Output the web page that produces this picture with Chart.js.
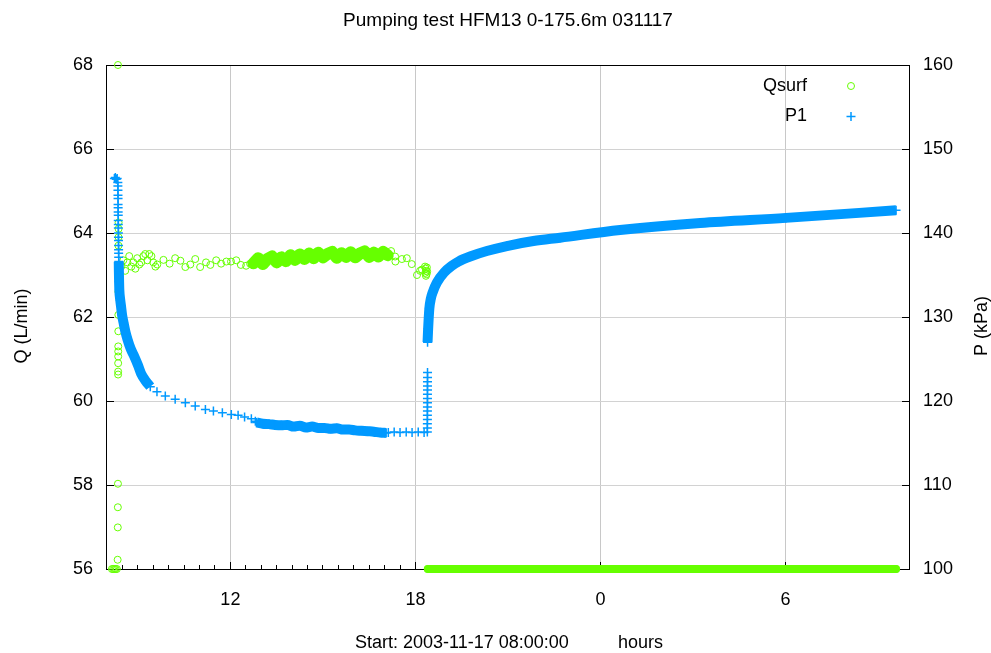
<!DOCTYPE html>
<html>
<head>
<meta charset="utf-8">
<title>Pumping test HFM13 0-175.6m 031117</title>
<script src="https://cdn.jsdelivr.net/npm/chart.js@4.4.1/dist/chart.umd.min.js"></script>
<style>
  html, body { margin: 0; padding: 0; background: #ffffff; }
  #wrap { width: 991px; height: 653px; position: relative; }
</style>
</head>
<body>
<div id="wrap"><canvas id="chart"></canvas></div>
<script>
// Time is in hours since 2003-11-17 00:00 (test start 08:00).

// ---- Qsurf, surface flow (L/min) ----
// start-up readings around the pump start
const qStartT = [8.16, 8.20, 8.24, 8.28, 8.32, 8.345, 8.350, 8.352, 8.355, 8.356, 8.360, 8.361, 8.362, 8.363, 8.364, 8.365, 8.366, 8.368, 8.370, 8.372, 8.374, 8.375, 8.376];
const qStartV = [56.0, 56.0, 56.0, 56.0, 56.0, 56.22, 56.99, 57.47, 58.03, 68.0, 60.63, 60.70, 60.90, 61.06, 61.18, 61.30, 61.66, 62.05, 62.60, 63.70, 63.90, 64.10, 64.25];
// early pumping period
const qEarlyT = [8.46, 8.53, 8.59, 8.66, 8.72, 8.79, 8.85, 8.92, 8.98, 9.05, 9.11, 9.18, 9.24, 9.31, 9.37, 9.44, 9.50, 9.57, 9.63,
                 9.83, 10.03, 10.21, 10.38, 10.54, 10.70, 10.86, 11.02, 11.21, 11.35, 11.54, 11.70, 11.87, 12.02, 12.19, 12.34, 12.51, 12.64];
const qEarlyV = [63.20, 63.35, 63.10, 63.30, 63.45, 63.20, 63.30, 63.15, 63.40, 63.25, 63.30, 63.45, 63.50, 63.35, 63.50, 63.45, 63.30, 63.20, 63.25,
                 63.36, 63.27, 63.40, 63.34, 63.19, 63.25, 63.38, 63.19, 63.30, 63.24, 63.35, 63.27, 63.32, 63.32, 63.35, 63.24, 63.22, 63.27];
// densely logged pumping period
const qDenseT = [12.75, 12.90, 13.05, 13.20, 13.35, 13.50, 13.65, 13.80, 13.95, 14.10, 14.25, 14.40, 14.55, 14.70, 14.85,
                 15.00, 15.15, 15.30, 15.45, 15.60, 15.75, 15.90, 16.05, 16.20, 16.35, 16.50, 16.65, 16.80, 16.95, 17.10];
const qDenseV = [63.28, 63.40, 63.26, 63.38, 63.44, 63.30, 63.42, 63.33, 63.47, 63.36, 63.49, 63.38, 63.51, 63.40, 63.53,
                 63.42, 63.50, 63.55, 63.41, 63.52, 63.43, 63.54, 63.42, 63.51, 63.56, 63.43, 63.53, 63.44, 63.55, 63.47];
// last hour of pumping
const qLateT = [17.21, 17.34, 17.35, 17.56, 17.72, 17.88, 18.05, 18.15, 18.21, 18.31, 18.32, 18.33, 18.34, 18.35, 18.36, 18.37, 18.38];
const qLateV = [63.57, 63.44, 63.32, 63.38, 63.40, 63.26, 63.00, 63.10, 63.13, 63.20, 63.05, 63.15, 62.98, 63.10, 63.02, 63.18, 63.08];
// pump stopped: recovery period
const qOffT = [18.40, 19.50, 21.00, 22.50, 24.00, 25.50, 27.00, 28.50, 30.00, 31.50, 33.00, 33.58];
const qOffV = [56.0, 56.0, 56.0, 56.0, 56.0, 56.0, 56.0, 56.0, 56.0, 56.0, 56.0, 56.0];

// ---- P1, section pressure (kPa) ----
const pStartT = [8.24, 8.27, 8.30, 8.33, 8.352, 8.353, 8.355, 8.356, 8.358, 8.359, 8.361, 8.362, 8.364, 8.365, 8.367, 8.368,
                 8.370, 8.371, 8.373, 8.374, 8.376, 8.377, 8.379];
const pStartV = [146.5, 146.6, 146.4, 146.5, 146.0, 145.6, 145.1, 144.5, 144.1, 143.4, 143.0, 142.5, 142.1, 141.5, 141.0, 140.6,
                 140.0, 139.5, 139.1, 138.5, 138.0, 137.6, 137.1];
const pDrawT = [8.381, 8.386, 8.392, 8.40, 8.43, 8.454, 8.49, 8.538, 8.60, 8.668, 8.77, 8.885, 9.00, 9.102, 9.25, 9.403];
const pDrawV = [136.6, 135.3, 134.2, 133.2, 132.0, 131.3, 130.2, 129.3, 128.2, 127.3, 126.2, 125.3, 124.3, 123.3, 122.4, 121.7];
const pMidT = [9.62, 9.89, 10.21, 10.54, 10.86, 11.19, 11.45, 11.74, 12.03, 12.25, 12.46, 12.68, 12.81];
const pMidV = [121.1, 120.6, 120.2, 119.8, 119.4, 119.0, 118.8, 118.6, 118.4, 118.3, 118.1, 117.9, 117.6];
const pDenseT = [12.85, 13.05, 13.25, 13.45, 13.65, 13.85, 14.05, 14.25, 14.45, 14.65, 14.85,
                 15.05, 15.25, 15.45, 15.65, 15.85, 16.05, 16.25, 16.45, 16.65, 16.85, 17.05];
const pDenseV = [117.45, 117.30, 117.25, 117.15, 117.10, 117.15, 116.95, 117.05, 116.85, 116.95, 116.80,
                 116.80, 116.70, 116.75, 116.60, 116.60, 116.50, 116.45, 116.40, 116.35, 116.25, 116.20];
const pLateT = [17.12, 17.31, 17.50, 17.70, 17.89, 18.09, 18.28, 18.385,
                18.386, 18.386, 18.387, 18.387, 18.388, 18.388, 18.389, 18.389, 18.389, 18.390, 18.390, 18.390, 18.391, 18.391];
const pLateV = [116.25, 116.30, 116.25, 116.30, 116.25, 116.30, 116.25, 116.30,
                116.8, 117.3, 117.8, 118.3, 118.8, 119.3, 119.8, 120.3, 120.8, 121.3, 121.8, 122.3, 122.8, 123.4];
const pRecT = [18.392, 18.411, 18.45, 18.50, 18.564, 18.693, 18.930, 19.180, 19.394, 19.772, 20.313, 20.962, 21.824, 22.689, 24.633, 27.23, 30.01, 33.58];
const pRecV = [127.0, 128.6, 131.0, 132.2, 133.0, 134.1, 135.3, 136.1, 136.6, 137.2, 137.85, 138.45, 139.04, 139.44, 140.36, 141.2, 141.8, 142.7];

// ---- axes ----
const xTickHours = [12, 18, 24, 30];
const xTickLabels = ['12', '18', '0', '6'];
const qTicks = [56, 58, 60, 62, 64, 66, 68];
const pTicks = [100, 110, 120, 130, 140, 150, 160];

const GREEN = '#66ff00';
const BLUE = '#0099ff';
const FONT = '"Liberation Sans", Arial, Helvetica, sans-serif';

const pts = (t, v) => t.map((h, i) => ({ x: h, y: v[i] }));

function qSet(t, v, band) {
  return {
    label: 'Qsurf', data: pts(t, v), yAxisID: 'q', order: 2, clip: false,
    showLine: band > 0, borderColor: GREEN, borderWidth: band,
    borderCapStyle: 'round', borderJoinStyle: 'round', tension: 0,
    pointStyle: 'circle', pointRadius: 3.5, pointBorderWidth: 1,
    pointBorderColor: GREEN, pointBackgroundColor: 'rgba(0,0,0,0)'
  };
}
function pSet(t, v, band) {
  return {
    label: 'P1', data: pts(t, v), yAxisID: 'p', order: 1, clip: false,
    showLine: band > 0, borderColor: BLUE, borderWidth: band,
    borderCapStyle: 'butt', borderJoinStyle: 'round', cubicInterpolationMode: 'monotone',
    pointStyle: 'cross', pointRadius: 4.5, pointBorderWidth: 1.5,
    pointBorderColor: BLUE, pointBackgroundColor: BLUE
  };
}

// frame, inward tick marks, legend and captions in gnuplot style
const decor = {
  id: 'decor',
  beforeDatasetsDraw(chart) {
    const { ctx, chartArea: a, scales } = chart;
    const x = scales.x, q = scales.q, p = scales.p;
    ctx.save();
    ctx.strokeStyle = '#000';
    ctx.lineWidth = 1;
    ctx.beginPath();
    for (let h = 8.5; h < 34; h += 0.5) {
      const px = Math.round(x.getPixelForValue(h) - 0.5) + 0.5;
      const len = xTickHours.includes(h) ? 7 : 4;
      ctx.moveTo(px, a.bottom); ctx.lineTo(px, a.bottom - len);
    }
    qTicks.slice(1, -1).forEach(v => {
      const py = Math.round(q.getPixelForValue(v) - 0.5) + 0.5;
      ctx.moveTo(a.left, py); ctx.lineTo(a.left + 7, py);
    });
    pTicks.slice(1, -1).forEach(v => {
      const py = Math.round(p.getPixelForValue(v) - 0.5) + 0.5;
      ctx.moveTo(a.right, py); ctx.lineTo(a.right - 7, py);
    });
    ctx.stroke();
    ctx.strokeRect(a.left - 0.5, a.top + 0.5, a.right - a.left + 1, a.bottom - a.top);
    ctx.restore();
  },
  afterDraw(chart) {
    const { ctx, chartArea: a } = chart;
    const labelY = (a.top + a.bottom) / 2 + 9;
    ctx.save();
    ctx.fillStyle = '#000';
    ctx.textBaseline = 'middle';

    ctx.font = '19px ' + FONT;
    ctx.textAlign = 'center';
    ctx.fillText('Pumping test HFM13 0-175.6m 031117', (a.left + a.right) / 2, 21);

    ctx.font = '18px ' + FONT;
    ctx.save(); ctx.translate(22, labelY); ctx.rotate(-Math.PI / 2);
    ctx.fillText('Q (L/min)', 0, 0); ctx.restore();
    ctx.save(); ctx.translate(982, labelY); ctx.rotate(-Math.PI / 2);
    ctx.fillText('P (kPa)', 0, 0); ctx.restore();

    ctx.textAlign = 'left';
    ctx.fillText('Start: 2003-11-17 08:00:00', 355, 643);
    ctx.fillText('hours', 618, 643);

    // legend
    ctx.textAlign = 'right';
    const rows = [{ label: 'Qsurf', y: a.top + 21 }, { label: 'P1', y: a.top + 51.5 }];
    rows.forEach(r => ctx.fillText(r.label, a.right - 102, r.y));
    const sx = a.right - 58;
    ctx.strokeStyle = GREEN; ctx.lineWidth = 1;
    ctx.beginPath(); ctx.arc(sx, rows[0].y, 3.5, 0, Math.PI * 2); ctx.stroke();
    ctx.strokeStyle = BLUE; ctx.lineWidth = 1.5;
    ctx.beginPath();
    ctx.moveTo(sx - 4.5, rows[1].y); ctx.lineTo(sx + 4.5, rows[1].y);
    ctx.moveTo(sx, rows[1].y - 4.5); ctx.lineTo(sx, rows[1].y + 4.5);
    ctx.stroke();
    ctx.restore();
  }
};

const tickFont = { family: FONT, size: 18 };

new Chart(document.getElementById('chart'), {
  type: 'scatter',
  data: {
    datasets: [
      pSet(pStartT, pStartV, 0),
      pSet(pDrawT, pDrawV, 10),
      pSet(pMidT, pMidV, 0),
      pSet(pDenseT, pDenseV, 10),
      pSet(pLateT, pLateV, 0),
      pSet(pRecT, pRecV, 10),
      qSet(qStartT, qStartV, 0),
      qSet(qEarlyT, qEarlyV, 0),
      qSet(qDenseT, qDenseV, 12),
      qSet(qLateT, qLateV, 0),
      qSet(qOffT, qOffV, 8)
    ]
  },
  options: {
    responsive: true,
    maintainAspectRatio: false,
    animation: false,
    events: [],
    layout: { padding: { top: 65, left: 0, right: 0, bottom: 0 } },
    plugins: { legend: { display: false }, tooltip: { enabled: false }, title: { display: false } },
    scales: {
      x: {
        type: 'linear', position: 'bottom', min: 8, max: 34,
        afterBuildTicks: s => { s.ticks = xTickHours.map(v => ({ value: v })); },
        afterFit: s => { s.height = 84; },
        ticks: {
          callback: v => xTickLabels[xTickHours.indexOf(v)],
          font: tickFont, color: '#000', padding: 20, maxRotation: 0, autoSkip: false
        },
        grid: { color: '#c8c8c8', lineWidth: 1, drawTicks: false },
        border: { display: false }
      },
      q: {
        type: 'linear', position: 'left', min: 56, max: 68,
        afterBuildTicks: s => { s.ticks = qTicks.map(v => ({ value: v })); },
        afterFit: s => { s.width = 107; },
        ticks: { font: tickFont, color: '#000', padding: 14 },
        grid: {
          color: c => (c.tick && (c.tick.value === 56 || c.tick.value === 68)) ? 'rgba(0,0,0,0)' : '#d2d2d2',
          lineWidth: 1, drawTicks: false
        },
        border: { display: false }
      },
      p: {
        type: 'linear', position: 'right', min: 100, max: 160,
        afterBuildTicks: s => { s.ticks = pTicks.map(v => ({ value: v })); },
        afterFit: s => { s.width = 82; },
        ticks: { font: tickFont, color: '#000', padding: 14 },
        grid: { drawOnChartArea: false, drawTicks: false },
        border: { display: false }
      }
    }
  },
  plugins: [decor]
});
</script>
</body>
</html>
